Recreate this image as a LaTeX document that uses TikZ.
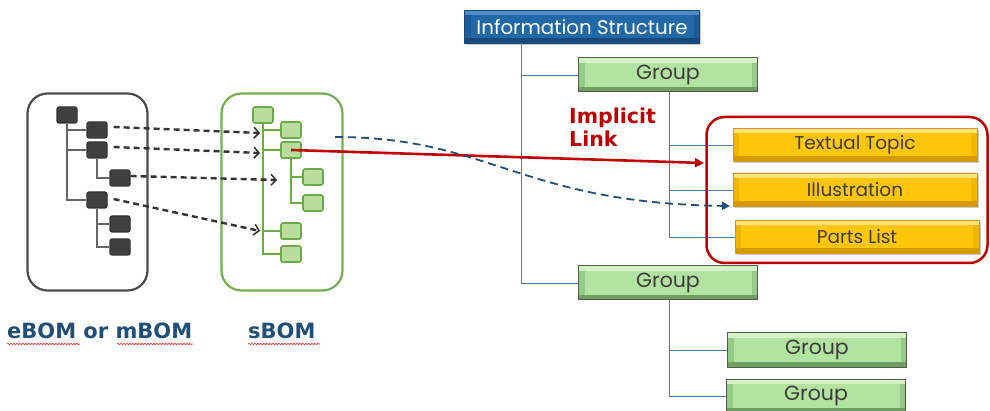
\documentclass[tikz,border=0pt]{standalone}
\usepackage{fontspec}
\newfontfamily\gfont{Poppins}
\newfontfamily\bfnt{DejaVu Sans}
\usetikzlibrary{arrows.meta,shadows,decorations.pathmorphing,calc}
\definecolor{bsqfill}{HTML}{404040}
\definecolor{bsqdraw}{HTML}{333333}
\definecolor{btree}{HTML}{666666}
\definecolor{gsqfill}{HTML}{B8DD9C}
\definecolor{gsqdraw}{HTML}{6AAA48}
\definecolor{gtree}{HTML}{6AAD45}
\definecolor{gbox}{HTML}{72B04E}
\definecolor{linkred}{HTML}{C00000}
\definecolor{navy}{HTML}{1F4E79}
\definecolor{bline}{HTML}{4A7EB0}
\definecolor{gface}{HTML}{B3E3A0}
\definecolor{gtop}{HTML}{D4F2C6}
\definecolor{gbot}{HTML}{6E9E60}
\definecolor{gside}{HTML}{95C987}
\definecolor{gborder}{HTML}{4E5E4A}
\definecolor{yface}{HTML}{FFC60A}
\definecolor{ytop}{HTML}{FFE27A}
\definecolor{ybot}{HTML}{D69A00}
\definecolor{yside}{HTML}{F2B600}
\definecolor{iface}{HTML}{2068A8}
\definecolor{itop}{HTML}{4F8DC9}
\definecolor{ibot}{HTML}{154A7A}
\definecolor{iside}{HTML}{1C5C96}
\definecolor{txt}{HTML}{3C3C3C}
\tikzset{
  bsq/.style={draw=bsqdraw, fill=bsqfill, line width=1.2pt, rounded corners=2pt, minimum width=20pt, minimum height=16pt, inner sep=0pt},
  gsq/.style={draw=gsqdraw, fill=gsqfill, line width=1.6pt, rounded corners=2pt, minimum width=20pt, minimum height=16pt, inner sep=0pt},
  btreeline/.style={draw=btree, line width=1.1pt},
  gtreeline/.style={draw=gtree, line width=1.1pt},
  infoline/.style={draw=bline, line width=0.9pt},
  darrow/.style={draw=bsqdraw, line width=2.4pt, dash pattern=on 6pt off 4pt, -{Straight Barb[length=5pt,width=11pt,line width=1.5pt]}},
  bevel/.style n args={4}{path picture={
      \fill[#2] (path picture bounding box.south west) rectangle (path picture bounding box.north east);
      \fill[#1] (path picture bounding box.north west) rectangle ([yshift=-5pt]path picture bounding box.north east);
      \fill[#3] (path picture bounding box.south west) rectangle ([yshift=5pt]path picture bounding box.south east);
      \fill[#4] ([shift={(6pt,5pt)}]path picture bounding box.south west) rectangle ([shift={(-6pt,-5pt)}]path picture bounding box.north east);
  }},
  group/.style={draw=gborder, line width=1pt, bevel={gtop}{gside}{gbot}{gface}, minimum width=179pt, minimum height=34pt, inner sep=0pt, font=\gfont\fontsize{20.5}{22}\selectfont, text=txt},
  ybox/.style={draw=ybot, line width=0.5pt, bevel={ytop}{yside}{ybot}{yface}, minimum width=244pt, minimum height=33pt, inner sep=0pt, font=\gfont\fontsize{18.5}{20}\selectfont, text=txt, drop shadow={shadow xshift=1.5pt, shadow yshift=-2pt, fill=black!35, opacity=0.6}},
  infobox/.style={draw=ibot, line width=1pt, bevel={itop}{iside}{ibot}{iface}, minimum width=235pt, minimum height=33pt, inner sep=0pt, font=\gfont\fontsize{19.8}{22}\selectfont, text=white, drop shadow={shadow xshift=1.5pt, shadow yshift=-2pt, fill=black!35, opacity=0.6}},
  lbl/.style={font=\bfnt\bfseries\fontsize{21}{24}\selectfont, text=navy, inner sep=0pt},
  squig/.style={draw=red!80, line width=0.6pt, decorate, decoration={snake, amplitude=0.8pt, segment length=3pt}}
}
\begin{document}
\begin{tikzpicture}[x=1pt,y=-1pt]
\useasboundingbox[fill=white] (0,0) rectangle (990,411);

% containers
\node[draw=black!70, line width=2.2pt, rounded corners=20pt, minimum width=120pt, minimum height=197pt, inner sep=0pt] (ebox) at (87.5,192) {};
\node[draw=gbox, line width=2.2pt, rounded corners=20pt, minimum width=121pt, minimum height=197pt, inner sep=0pt] (sbox) at (282,192) {};

% black tree
\node[bsq] (b0) at (67,115) {};
\node[bsq] (b1) at (97,130) {};
\node[bsq] (b2) at (97,150) {};
\node[bsq] (b4) at (120,178) {};
\node[bsq] (b3) at (97,200) {};
\node[bsq] (b5) at (120,224) {};
\node[bsq] (b6) at (120,247) {};
\draw[btreeline] (b0.south) |- (b1.west);
\draw[btreeline] (b0.south) |- (b2.west);
\draw[btreeline] (b0.south) |- (b3.west);
\draw[btreeline] (b2.south) |- (b4.west);
\draw[btreeline] (b3.south) |- (b5.west);
\draw[btreeline] (b3.south) |- (b6.west);

% green tree
\node[gsq] (g0) at (263,115) {};
\node[gsq] (g1) at (291,130) {};
\node[gsq] (g2) at (291,150) {};
\node[gsq] (g4) at (313,177) {};
\node[gsq] (g5) at (313,203) {};
\node[gsq] (g3) at (291,231) {};
\node[gsq] (g6) at (291,254) {};
\draw[gtreeline] (g0.south) |- (g1.west);
\draw[gtreeline] (g0.south) |- (g2.west);
\draw[gtreeline] (g0.south) |- (g3.west);
\draw[gtreeline] (g0.south) |- (g6.west);
\draw[gtreeline] (g2.south) |- (g4.west);
\draw[gtreeline] (g2.south) |- (g5.west);

% dashed mapping arrows
\coordinate (m1) at (260,133);
\coordinate (m2) at (260,153);
\coordinate (m3) at (277,180);
\coordinate (m4) at (260,231);
\draw[darrow] ([xshift=6pt,yshift=3pt]b1.east) -- (m1);
\draw[darrow] ([xshift=6pt,yshift=3pt]b2.east) -- (m2);
\draw[darrow] ([yshift=2pt]b4.east) -- (m3);
\draw[darrow] ([xshift=6pt,yshift=1pt]b3.east) -- (m4);

% labels
\node[lbl, anchor=base west] (elbl) at (7,339) {eBOM or mBOM};
\node[lbl, anchor=base west] (slbl) at (248,339) {sBOM};
\draw[squig] (7,344) -- (80,344);
\draw[squig] (117,344) -- (193,344);
\draw[squig] (248,344) -- (320,344);

% information structure tree
\node[infobox] (info) at (582,27) {Information Structure};
\node[group] (gr1) at (668,75) {Group};
\node[group] (gr2) at (668,283) {Group};
\node[group] (gr3) at (817,350) {Group};
\node[group] (gr4) at (816,396) {Group};
\node[ybox] (tt) at (855,145) {Textual Topic};
\node[ybox] (il) at (855,190) {Illustration};
\node[ybox] (pl) at (857,237) {Parts List};
\coordinate (iv) at (521,43);
\draw[infoline] (iv) |- (gr1.west);
\draw[infoline] (iv) |- (gr2.west);
\coordinate (gv) at (669,92);
\draw[infoline] (gv) |- (tt.west);
\draw[infoline] (gv) |- (il.west);
\draw[infoline] (gv) |- (pl.west);
\coordinate (gv2) at (669,300);
\draw[infoline] (gv2) |- (gr3.west);
\draw[infoline] (gv2) |- (gr4.west);

% implicit link region
\node[draw=linkred, line width=2.5pt, rounded corners=18pt, minimum width=281pt, minimum height=146pt, inner sep=0pt] (region) at (847,190) {};
\node[anchor=base west, font=\bfnt\bfseries\fontsize{20.5}{23}\selectfont, text=linkred, align=left, inner sep=0pt] (impl) at (569,147) {Implicit\\Link};

% red link arrow
\coordinate (rend) at (704,163);
\draw[linkred, line width=2.6pt, -{Triangle[length=9pt,width=9pt]}] (g2.center) -- (rend);

% blue dashed curve
\coordinate (cstart) at (335,137);
\coordinate (cend) at (730,206);
\draw[navy, line width=1.8pt, dash pattern=on 8pt off 5pt, -{Triangle[length=8pt,width=8pt]}] (cstart) .. controls (490,137) and (520,203) .. (cend);
\end{tikzpicture}
\end{document}
